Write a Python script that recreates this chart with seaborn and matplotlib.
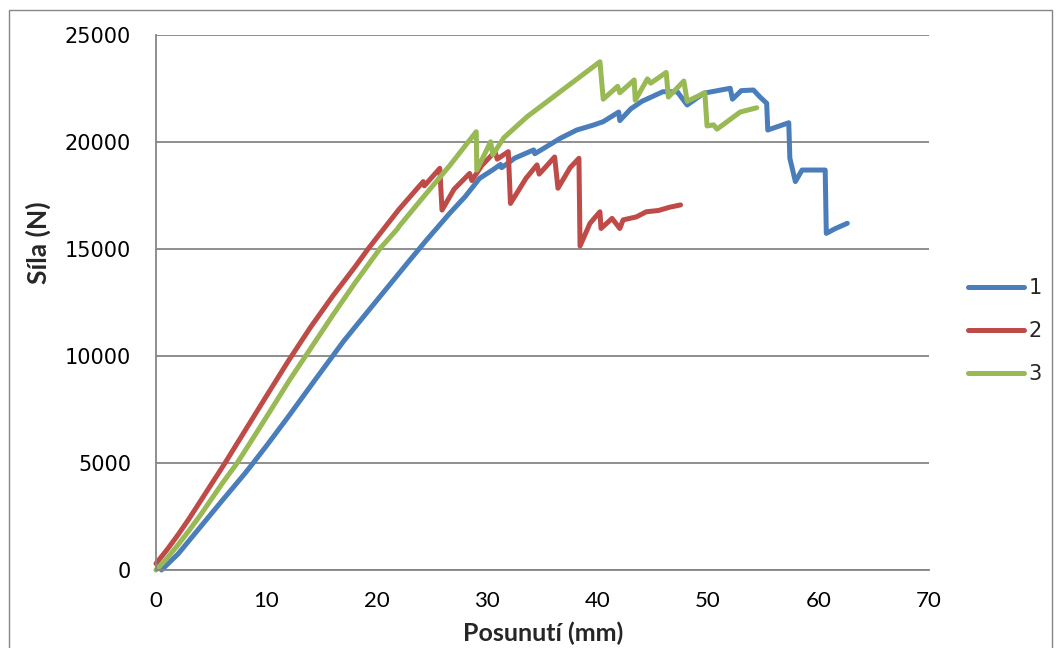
import matplotlib
matplotlib.use("Agg")
import matplotlib.pyplot as plt
from matplotlib.patches import Rectangle
from matplotlib.lines import Line2D
import pandas as pd
import seaborn as sns

# Force–displacement records of three specimens (displacement in mm, force in N)
x1 = [0.5, 2, 4, 6, 8, 8.8, 10, 12, 14.4, 17, 20, 23, 24.5, 26.6, 28, 29.3, 30.5,
      31.2, 31.3, 32.5, 34.2, 34.3, 36.6, 38.1, 39.6, 40.5, 41.9, 42.0, 43, 44, 45.9,
      47.2, 48.1, 49.6, 52.0, 52.2, 53, 54.1, 54.7, 55.3, 55.4, 57.3, 57.4, 57.9, 58.5,
      60.6, 60.7, 61.5, 62.6]
y1 = [0, 750, 2000, 3250, 4480, 5000, 5800, 7180, 8880, 10700, 12600, 14490, 15420,
      16670, 17450, 18300, 18700, 18950, 18800, 19250, 19630, 19450, 20170, 20560,
      20790, 20950, 21400, 21000, 21550, 21900, 22350, 22350, 21730, 22280, 22510,
      22000, 22400, 22430, 22100, 21810, 20560, 20900, 19240, 18150, 18690, 18690,
      15730, 15950, 16200]

x2 = [0, 1, 2, 3, 4, 5, 6.25, 8, 10, 12, 14, 16, 18, 19.2, 20.3, 22, 24.2, 24.3, 25.7,
      25.9, 27, 28.4, 28.6, 29.5, 30.7, 30.9, 31.9, 32.1, 33.5, 34.5, 34.7, 36.1, 36.4,
      37.5, 38.3, 38.4, 39.3, 40.2, 40.3, 41.3, 42.0, 42.3, 43.5, 44.4, 45.5, 46.5, 47.5]
y2 = [300, 950, 1650, 2400, 3200, 4000, 5000, 6460, 8130, 9780, 11350, 12800, 14150,
      15000, 15730, 16850, 18150, 17950, 18770, 16820, 17800, 18530, 18200, 18900,
      19550, 19200, 19550, 17130, 18300, 18930, 18500, 19300, 17840, 18800, 19240,
      15140, 16200, 16740, 15960, 16430, 15960, 16360, 16500, 16740, 16800, 16950, 17060]

x3 = [0, 1, 2, 3, 4, 5, 6, 7.35, 9, 10.5, 12.1, 14, 16, 18, 20.3, 21.9, 22, 24, 26.6,
      29.0, 29.05, 30.3, 30.5, 31.5, 33.6, 36.6, 40.2, 40.5, 41.8, 42.0, 43.3, 43.4,
      44.5, 44.8, 46.2, 46.4, 47.8, 48.1, 49.7, 49.9, 50.5, 50.8, 52.9, 54.4]
y3 = [0, 550, 1180, 1850, 2550, 3300, 4050, 5000, 6330, 7560, 8880, 10350, 11900,
      13400, 15030, 15960, 16050, 17300, 18900, 20480, 18690, 20010, 19400, 20200,
      21180, 22350, 23750, 22000, 22600, 22300, 22900, 21950, 22950, 22750, 23250,
      22100, 22850, 21900, 22300, 20750, 20800, 20600, 21400, 21600]

series_names = ["1", "2", "3"]
series_colors = ["#4A7EBB", "#BE4B48", "#98B954"]
x_ticks = [0, 10, 20, 30, 40, 50, 60, 70]
y_ticks = [0, 5000, 10000, 15000, 20000, 25000]

records = pd.concat([
    pd.DataFrame({"Posunutí (mm)": xs, "Síla (N)": ys, "Vzorek": name})
    for xs, ys, name in zip([x1, x2, x3], [y1, y2, y3], series_names)
], ignore_index=True)

sns.set_theme(style="white")
plt.rcParams["font.family"] = ["DejaVu Sans"]

grey = "#868686"
narrow = ["Lato", "DejaVu Sans"]
fig = plt.figure(figsize=(10.61, 6.48), dpi=100)
ax = fig.add_axes([156 / 1061, 1 - 570 / 648, (929 - 156) / 1061, (570 - 35) / 648])

sns.lineplot(data=records, x="Posunutí (mm)", y="Síla (N)", hue="Vzorek",
             palette=dict(zip(series_names, series_colors)), sort=False,
             estimator=None, linewidth=3.6, legend=False, ax=ax)
for line in ax.lines:
    line.set_solid_capstyle("round")
    line.set_solid_joinstyle("round")
    line.set_clip_on(False)

ax.set_xlim(0, 70)
ax.set_ylim(0, 25000)
ax.set_xticks(x_ticks)
ax.set_yticks(y_ticks)
ax.set_xticklabels([str(v) for v in x_ticks], fontfamily=narrow, fontsize=16)
ax.set_yticklabels([str(v) for v in y_ticks], fontsize=15)

ax.yaxis.grid(True, color=grey, linewidth=1.3)
ax.xaxis.grid(False)
ax.set_axisbelow(True)
for side in ["top", "right"]:
    ax.spines[side].set_visible(False)
for side in ["left", "bottom"]:
    ax.spines[side].set_color(grey)
    ax.spines[side].set_linewidth(1.3)
ax.tick_params(axis="both", direction="out", length=6, width=1.3, color=grey,
               labelcolor="black")
ax.tick_params(axis="x", pad=9)
ax.tick_params(axis="y", pad=12)

ax.set_xlabel("Posunutí (mm)", fontfamily=narrow, fontsize=18, fontweight="bold")
ax.set_ylabel("Síla (N)", fontfamily=narrow, fontsize=19, fontweight="bold")
ax.xaxis.set_label_coords((543 - 156) / 773, -(633 - 570) / 535)
ax.yaxis.set_label_coords((38 - 156) / 773, (570 - 243) / 535)
ax.xaxis.label.set_va("center")
ax.yaxis.label.set_va("center")

handles = [Line2D([0], [0], color=c, linewidth=3.6, solid_capstyle="round")
           for c in series_colors]
fig.legend(handles, series_names, loc="center left",
           bbox_to_anchor=(968 / 1061, 1 - 331 / 648), frameon=False,
           fontsize=15, handlelength=2.7, handletextpad=0.2, labelspacing=1.1,
           borderpad=0, borderaxespad=0)

fig.patches.append(Rectangle((9 / 1061, -0.05), (1052 - 9) / 1061, 1.05 - 10 / 648,
                             transform=fig.transFigure, fill=False,
                             edgecolor=grey, linewidth=1.0))

fig.savefig("out.png", dpi=100, facecolor="white")
